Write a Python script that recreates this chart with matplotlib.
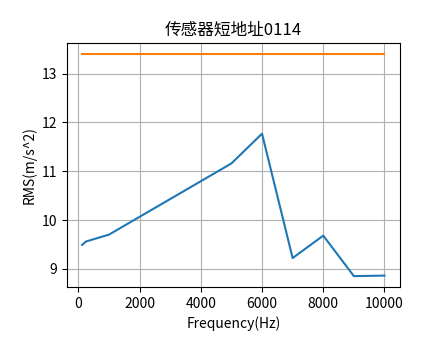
import matplotlib
matplotlib.use("Agg")
import matplotlib.pyplot as plt

plt.rcParams['font.family'] = ['Noto Sans CJK SC', 'DejaVu Sans']
plt.rcParams['axes.unicode_minus'] = False

# Données
freq = [125, 250, 1000, 5000, 6000, 7000, 8000, 9000, 10000]
rms = [9.49, 9.56, 9.70, 11.16, 11.77, 9.22, 9.68, 8.85, 8.86]
seuil_x = [125, 10000]
seuil = [13.4, 13.4]

fig = plt.figure(figsize=(4.44, 3.59), dpi=100)
plt.plot(freq, rms, color="#1f77b4")
plt.plot(seuil_x, seuil, color="#ff7f0e")
plt.title("传感器短地址0114")
plt.xlabel("Frequency(Hz)")
plt.ylabel("RMS(m/s^2)")
plt.grid(True)
plt.subplots_adjust(left=0.151, right=0.90, top=0.88, bottom=0.2)
plt.savefig("out.png", dpi=100)
